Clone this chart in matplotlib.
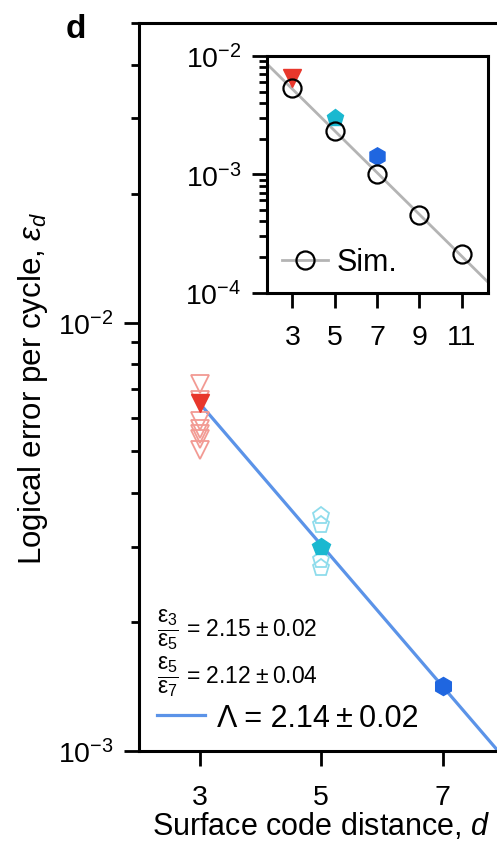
import numpy as np
import matplotlib
matplotlib.use("Agg")
import matplotlib.pyplot as plt
from matplotlib.ticker import LogLocator, NullFormatter, FixedLocator

plt.rcParams['font.family'] = ['Liberation Sans', 'DejaVu Sans']
plt.rcParams['mathtext.fontset'] = 'custom'
plt.rcParams['mathtext.rm'] = 'Liberation Sans'
plt.rcParams['mathtext.it'] = 'Liberation Sans:italic'
plt.rcParams['mathtext.bf'] = 'Liberation Sans:bold'

# experiment, main panel
dist = [3, 5, 7]
eps_exp = [6.5e-3, 3.0e-3, 1.42e-3]
eps_d3_runs = [7.2e-3, 6.6e-3, 5.9e-3, 5.65e-3, 5.5e-3, 5.35e-3, 5.05e-3]
eps_d5_runs = [3.53e-3, 3.37e-3, 2.79e-3, 2.67e-3]

# simulation, inset
sim_dist = [3, 5, 7, 9, 11]
sim_eps = [5.4e-3, 2.3e-3, 1.0e-3, 4.5e-4, 2.1e-4]

ts = '\u2009'
ratio_labels = [r'$\dfrac{\mathregular{\varepsilon_3}}{\mathregular{\varepsilon_5}}$ = 2.15' + ts + '±' + ts + '0.02',
                r'$\dfrac{\mathregular{\varepsilon_5}}{\mathregular{\varepsilon_7}}$ = 2.12' + ts + '±' + ts + '0.04']
lambda_label = 'Λ = 2.14' + ts + '±' + ts + '0.02'

red = '#e8372c'
red_light = '#f29a93'
cyan = '#1ab8d0'
cyan_light = '#8fdcec'
blue = '#1f66e0'
fit_blue = '#5b93e8'
markers = ['v', 'p', 'h']
colors = [red, cyan, blue]

W, H = 497, 845
fig = plt.figure(figsize=(W / 100, H / 100), dpi=100)

ax = fig.add_axes([139 / W, 93 / H, 364.5 / W, 728 / H])
ax.set_yscale('log')
ax.set_xlim(2, 8)
ax.set_ylim(1e-3, 5e-2)

# fit line
coef = np.polyfit(dist, np.log10(eps_exp), 1)
xf = np.linspace(3, 8.2, 50)
ax.plot(xf, 10 ** np.polyval(coef, xf), color=fit_blue, lw=2.3, label=lambda_label, zorder=2)

ax.plot([3] * len(eps_d3_runs), eps_d3_runs, 'v', ms=12.5, mfc='none', mec=red_light, mew=1.3, zorder=3)
ax.plot([5] * len(eps_d5_runs), eps_d5_runs, 'p', ms=12.5, mfc='none', mec=cyan_light, mew=1.3, zorder=3)
for d, e, m, c in zip(dist, eps_exp, markers, colors):
    ax.plot(d, e, m, ms=13, color=c, mec=c, zorder=4)

ax.set_xticks([3, 5, 7])
ax.yaxis.set_major_locator(FixedLocator([1e-3, 1e-2]))
ax.yaxis.set_minor_locator(LogLocator(base=10, subs=np.arange(2, 10)))
ax.yaxis.set_minor_formatter(NullFormatter())
ax.tick_params(axis='both', which='major', length=11, width=2, labelsize=20.5, direction='out')
ax.tick_params(axis='x', pad=13)
ax.tick_params(axis='y', which='major', pad=7)
ax.tick_params(axis='y', which='minor', length=6, width=2)
for s in ax.spines.values():
    s.set_linewidth(2.2)

ax.set_xlabel('Surface code distance, $\\mathit{d}$', fontsize=22, labelpad=0)
ax.set_ylabel('Logical error per cycle, $\\varepsilon_d$', fontsize=22.5)
ax.yaxis.set_label_coords(-0.245, 0.5)

ax.text(0.05, 0.168, ratio_labels[0], transform=ax.transAxes, fontsize=16.5, va='center')
ax.text(0.05, 0.103, ratio_labels[1], transform=ax.transAxes, fontsize=16.5, va='center')
ax.legend(loc='lower left', frameon=False, fontsize=22, handlelength=1.55,
          handletextpad=0.4, borderaxespad=0.2, bbox_to_anchor=(0.0, 0.0))

fig.text(76 / W, 1 - 29 / H, 'd', fontsize=24, fontweight='bold', ha='center', va='center')

# inset
ins = fig.add_axes([266.5 / W, 1 - 293.5 / H, 221.5 / W, 236.5 / H])
ins.set_yscale('log')
ins.set_xlim(1.77, 12.25)
ins.set_ylim(1e-4, 1e-2)
scoef = np.polyfit(sim_dist, np.log10(sim_eps), 1)
xs = np.linspace(1.7, 12.4, 50)
ins.plot(xs, 10 ** np.polyval(scoef, xs), color='#b4b4b4', lw=2.0, zorder=1)
ins.plot(sim_dist, sim_eps, 'o', ms=13, mfc='none', mec='black', mew=1.6, zorder=3)
ins.plot([], [], '-o', color='#b4b4b4', lw=2.0, ms=13, mfc='none', mec='black', mew=1.6, label='Sim.')
for d, e, m, c in zip(dist, eps_exp, markers, colors):
    ins.plot(d, e, m, ms=12.5, color=c, mec=c, zorder=2)
ins.set_xticks(sim_dist)
ins.yaxis.set_major_locator(FixedLocator([1e-4, 1e-3, 1e-2]))
ins.yaxis.set_minor_locator(LogLocator(base=10, subs=np.arange(2, 10)))
ins.yaxis.set_minor_formatter(NullFormatter())
ins.tick_params(axis='both', which='major', length=11, width=2, labelsize=20.5, direction='out')
ins.tick_params(axis='x', pad=12)
ins.tick_params(axis='y', which='major', pad=7)
ins.tick_params(axis='y', which='minor', length=6, width=2)
for s in ins.spines.values():
    s.set_linewidth(2.2)
ins.legend(loc='lower left', frameon=False, fontsize=22, handlelength=1.5,
           handletextpad=0.3, borderaxespad=0.1)

fig.savefig('out.png', dpi=100)
